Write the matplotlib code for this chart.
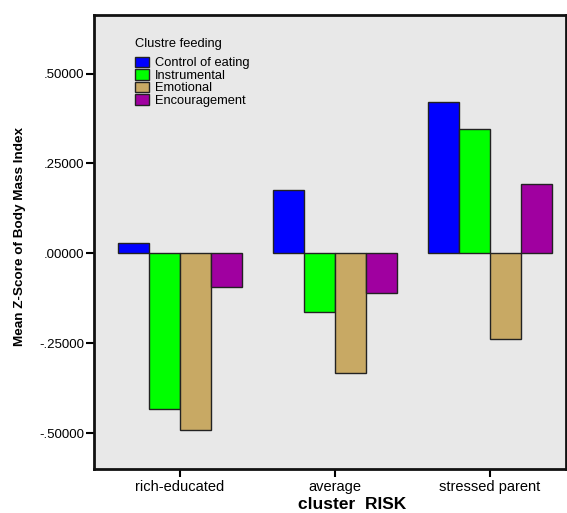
import numpy as np
import matplotlib
matplotlib.use("Agg")
import matplotlib.pyplot as plt
from matplotlib.ticker import FuncFormatter

# Data
clusters = ['rich-educated', 'average', 'stressed parent']
control_of_eating = [0.028, 0.176, 0.421]
instrumental = [-0.434, -0.162, 0.347]
emotional = [-0.491, -0.333, -0.238]
encouragement = [-0.093, -0.109, 0.193]

series_names = ['Control of eating', 'Instrumental', 'Emotional', 'Encouragement']
colors = ['#0000ff', '#00ff00', '#c8a964', '#a000a0']

plt.rcParams['font.family'] = ['Liberation Sans', 'DejaVu Sans']

fig = plt.figure(figsize=(5.67, 5.13), dpi=100)
ax = fig.add_axes([94 / 567, 1 - 469 / 513, (566 - 94) / 567, (469 - 15) / 513])
ax.set_facecolor('#e8e8e8')

x = np.arange(len(clusters))
width = 0.2
all_series = [control_of_eating, instrumental, emotional, encouragement]
for i, (vals, name, col) in enumerate(zip(all_series, series_names, colors)):
    ax.bar(x + (i - 1.5) * width, vals, width, color=col, edgecolor='#222222',
           linewidth=1.0, label=name, zorder=2)

ax.set_xlim(-0.555, 2.49)
ax.set_ylim(-0.6, 0.663)
ax.set_yticks([-0.5, -0.25, 0.0, 0.25, 0.5])


# SPSS-style labels: .50000, -.25000
def fmt(v, pos):
    s = '%.5f' % v
    s = s.replace('0.', '.')
    if s == '-.00000':
        s = '.00000'
    return s


ax.yaxis.set_major_formatter(FuncFormatter(fmt))
ax.set_xticks(x)
ax.set_xticklabels(clusters)
ax.tick_params(axis='both', direction='out', length=6, width=1.5, pad=1)
ax.tick_params(axis='y', labelsize=9.5)
ax.tick_params(axis='x', labelsize=10.5, pad=2)

for side in ['left', 'bottom', 'top', 'right']:
    ax.spines[side].set_linewidth(2)
    ax.spines[side].set_color('#111111')

ax.set_ylabel('Mean Z-Score of Body Mass Index', fontsize=9.7, fontweight='bold')
ax.yaxis.set_label_coords((26 - 94) / 472, (469 - 236) / 454)
ax.set_xlabel('cluster  RISK', fontsize=12.5, fontweight='bold', va='baseline')
ax.xaxis.set_label_coords((352 - 94) / 472, (469 - 509) / 454)

leg = ax.legend(title='Clustre feeding', loc='upper left', bbox_to_anchor=(0.068, 0.97),
                frameon=False, fontsize=9.3, title_fontsize=9.3, handlelength=1.1,
                handleheight=0.85, handletextpad=0.45, labelspacing=0.0, borderpad=0.2)
leg._legend_box.align = 'left'
leg._legend_box.sep = 5

fig.savefig('out.png', dpi=100)
